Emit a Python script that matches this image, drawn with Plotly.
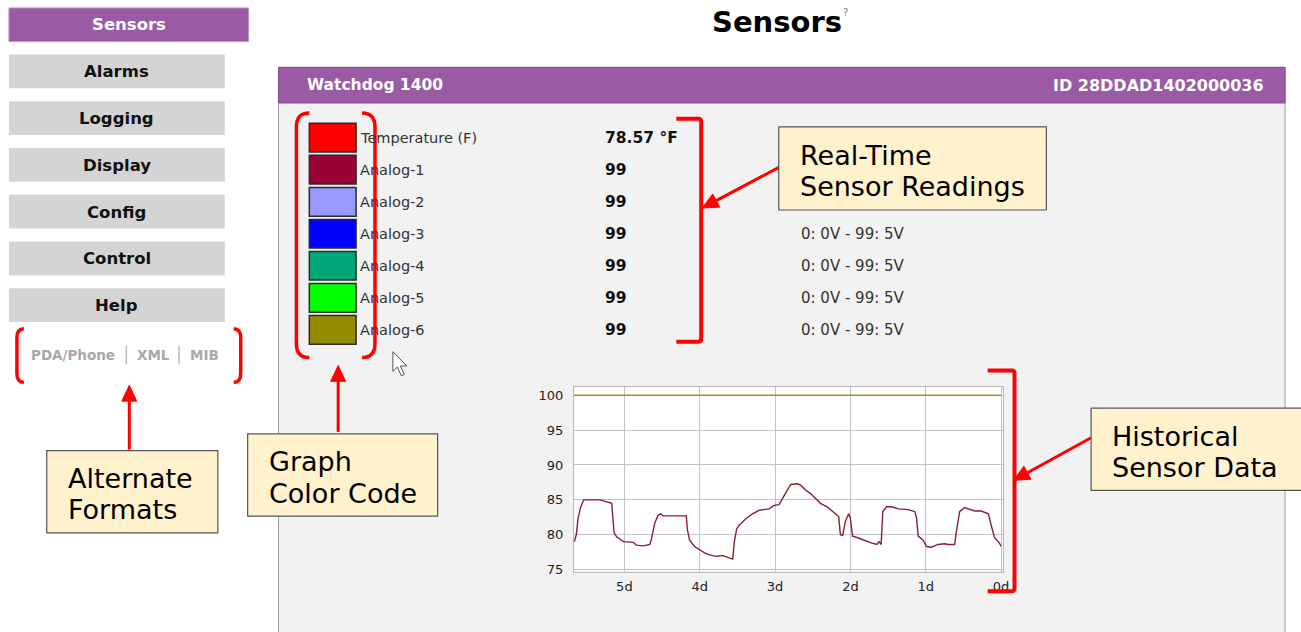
import plotly.graph_objects as go

W, H = 1301, 632
FONT = "DejaVu Sans"

# ---------------- data ----------------
nav_active = "Sensors"
nav_items = ["Alarms", "Logging", "Display", "Config", "Control", "Help"]
alt_formats = ["PDA/Phone", "XML", "MIB"]

device_name = "Watchdog 1400"
device_id = "ID 28DDAD1402000036"

sensor_names = ["Temperature (F)", "Analog-1", "Analog-2", "Analog-3",
                "Analog-4", "Analog-5", "Analog-6"]
sensor_values = ["78.57 °F", "99", "99", "99", "99", "99", "99"]
sensor_ranges = ["", "", "", "0: 0V - 99: 5V", "0: 0V - 99: 5V",
                 "0: 0V - 99: 5V", "0: 0V - 99: 5V"]
sensor_colors = ["#ff0000", "#990033", "#9999ff", "#0000ff",
                 "#00a878", "#00ff00", "#938c00"]

# historical temperature (days ago, °F)
temp_days = [5.664, 5.638, 5.616, 5.585, 5.541, 5.321, 5.168, 5.137, 5.102,
             5.014, 4.882, 4.838, 4.750, 4.662, 4.640, 4.596, 4.552, 4.517,
             4.486, 4.178, 4.165, 4.134, 4.068, 4.002, 3.936, 3.870, 3.782,
             3.694, 3.606, 3.562, 3.540, 3.510, 3.475, 3.387, 3.299, 3.211,
             3.079, 3.013, 2.947, 2.903, 2.837, 2.793, 2.705, 2.661, 2.595,
             2.529, 2.463, 2.397, 2.309, 2.243, 2.177, 2.155, 2.133, 2.102,
             2.067, 2.023, 2.001, 1.971, 1.913, 1.803, 1.715, 1.649, 1.619,
             1.592, 1.570, 1.518, 1.452, 1.364, 1.232, 1.144, 1.122, 1.100,
             1.034, 0.990, 0.924, 0.836, 0.748, 0.704, 0.616, 0.594, 0.550,
             0.484, 0.418, 0.352, 0.264, 0.168, 0.132, 0.088, 0.022, 0.0]
temp_vals = [79.0, 80.0, 82.2, 83.8, 85.0, 85.0, 84.5, 80.3, 79.7,
             79.0, 78.9, 78.5, 78.4, 78.6, 79.4, 81.7, 82.8, 83.0,
             82.7, 82.7, 80.8, 79.2, 78.3, 77.8, 77.4, 77.1, 76.9,
             77.0, 76.7, 76.5, 79.0, 80.8, 81.4, 82.3, 83.0, 83.5,
             83.7, 84.2, 84.3, 85.2, 86.4, 87.2, 87.3, 87.1, 86.4,
             85.9, 85.2, 84.5, 84.0, 83.4, 82.8, 82.6, 80.0, 79.9,
             81.9, 83.0, 82.4, 79.8, 79.6, 79.1, 78.8, 78.6, 79.0,
             78.6, 83.3, 84.0, 84.0, 83.7, 83.6, 83.3, 82.4, 79.8,
             79.2, 78.3, 78.2, 78.6, 78.7, 78.6, 78.6, 80.4, 83.3,
             83.9, 83.6, 83.4, 83.4, 83.0, 81.4, 79.6, 78.8, 78.3]
analog6_days = [5.67, 0.0]
analog6_vals = [100, 100]

x_tick_vals = [5, 4, 3, 2, 1, 0]
x_tick_text = ["5d", "4d", "3d", "2d", "1d", "0d"]
y_tick_vals = [75, 80, 85, 90, 95, 100]

callouts = [
    (["Alternate", "Formats"], (47, 455, 219, 538)),
    (["Graph", "Color Code"], (249, 438, 440, 521)),
    (["Real-Time", "Sensor Readings"], (783, 128, 1052, 212)),
    (["Historical", "Sensor Data"], (1097, 412, 1310, 495)),
]

# ---------------- helpers ----------------
PURPLE = "#9a5aa4"
RED = "#ff0000"
shapes = []
annotations = []


def X(px):
    return px / W


def Y(py):
    return 1 - py / H


def P(px, py):
    return f"{X(px):.5f},{Y(py):.5f}"


def rect(x0, y0, x1, y1, fill, line=None, lw=0, layer="below"):
    shapes.append(dict(type="rect", xref="paper", yref="paper",
                       x0=X(x0), x1=X(x1), y0=Y(y1), y1=Y(y0),
                       fillcolor=fill, layer=layer,
                       line=dict(color=line or fill, width=lw)))


def path(d, color=RED, width=3.5, fill=None, layer="above"):
    s = dict(type="path", xref="paper", yref="paper", path=d, layer=layer,
             line=dict(color=color, width=width))
    if fill:
        s["fillcolor"] = fill
    shapes.append(s)


def text(px, py, t, size=14, color="#000", bold=False, anchor="left", family=FONT):
    if bold:
        t = f"<b>{t}</b>"
    annotations.append(dict(xref="paper", yref="paper", x=X(px), y=Y(py),
                            text=t, showarrow=False, xanchor=anchor,
                            yanchor="middle", borderpad=0,
                            font=dict(family=family, size=size, color=color)))


def arrow(x0, y0, x1, y1, head=16, half=7.5):
    dx, dy = x1 - x0, y1 - y0
    L = (dx * dx + dy * dy) ** 0.5
    ux, uy = dx / L, dy / L
    bx, by = x1 - ux * head, y1 - uy * head
    path(f"M{P(x0, y0)} L{P(bx, by)}", width=3)
    px_, py_ = -uy * half, ux * half
    path(f"M{P(x1, y1)} L{P(bx + px_, by + py_)} L{P(bx - px_, by - py_)} Z",
         width=1, fill=RED)


def paren_pair(xl, xr, y0, y1, depth, r=9):
    path(f"M{P(xl + depth, y0)} Q{P(xl, y0)} {P(xl, y0 + r)} "
         f"L{P(xl, y1 - r)} Q{P(xl, y1)} {P(xl + depth, y1)}")
    path(f"M{P(xr - depth, y0)} Q{P(xr, y0)} {P(xr, y0 + r)} "
         f"L{P(xr, y1 - r)} Q{P(xr, y1)} {P(xr - depth, y1)}")


def square_bracket(x0, x1, y0, y1):
    path(f"M{P(x0, y0)} L{P(x1 - 3, y0)} Q{P(x1, y0)} {P(x1, y0 + 3)} "
         f"L{P(x1, y1 - 3)} Q{P(x1, y1)} {P(x1 - 3, y1)} L{P(x0, y1)}", width=4)


# ---------------- page structure ----------------
rect(280, 68, 1292, 650, "#f2f2f2", line="#9a9a9a", lw=1)
rect(280, 68, 1292, 104, PURPLE, line="#8a4a94", lw=1)
rect(577, 391, 1008, 577, "#ffffff")

# sidebar
rect(9, 8, 250, 42, PURPLE, line="#b79bbd", lw=1)
text(130, 25, nav_active, size=16.5, color="#ffffff", bold=True, anchor="center")
for i, item in enumerate(nav_items):
    top = 55 + i * 47.2
    rect(9, top, 226, top + 34, "#d4d4d4")
    text(117.5, top + 17.5, item, size=16.5, color="#111111", bold=True, anchor="center")

alt_x = [73.5, 154, 206]
for t, xx in zip(alt_formats, alt_x):
    text(xx, 358, t, size=13.5, color="#a8a8a8", bold=True, anchor="center")
for xx in [127, 180]:
    shapes.append(dict(type="line", xref="paper", yref="paper",
                       x0=X(xx), x1=X(xx), y0=Y(349), y1=Y(368),
                       line=dict(color="#bdbdbd", width=1.5)))

# title
text(781, 22, "Sensors", size=29, color="#000000", bold=True, anchor="center")
text(850, 13, "?", size=10, color="#8a7aa0", anchor="center")

# header texts
text(308, 86, device_name, size=15.5, color="#ffffff", bold=True, anchor="left")
text(1272, 86, device_id, size=16, color="#ffffff", bold=True, anchor="right")

# sensor rows
row_y = [139, 171.3, 203.7, 236, 268.3, 300.7, 333]
for name, val, rng, col, yy in zip(sensor_names, sensor_values, sensor_ranges,
                                    sensor_colors, row_y):
    rect(311, yy - 14.5, 358, yy + 14.5, col, line="#2a2a2a", lw=1.5, layer="above")
    text(361, yy, name, size=14.5, color="#333333")
    text(607, yy, val, size=15.5, color="#111111", bold=True)
    if rng:
        text(804, yy, rng, size=15, color="#333333")

# mouse cursor
path(f"M{P(395, 355)} L{P(395, 375)} L{P(399.5, 370.5)} L{P(403.5, 379.5)} "
     f"L{P(406.5, 378)} L{P(402.5, 369.5)} L{P(409, 369.5)} Z",
     color="#555555", width=1, fill="#ffffff")

# brackets
paren_pair(17, 242, 332, 386, 7)
paren_pair(298, 377, 114, 361, 13, r=14)
square_bracket(680, 705, 120, 345)
square_bracket(993, 1020, 374, 597)

# arrows
arrow(130, 454, 130, 389)
arrow(340, 436, 340, 369)
arrow(785, 168, 706, 210)
arrow(1097, 442, 1019, 485)

# callout boxes
for lines, (x0, y0, x1, y1) in callouts:
    rect(x0, y0, x1, y1, "#fff2cc", line="#555555", lw=1.2, layer="above")
    h = y1 - y0
    text(x0 + 20, y0 + h * 0.34, lines[0], size=27, color="#000000")
    text(x0 + 20, y0 + h * 0.72, lines[1], size=27, color="#000000")

# ---------------- chart ----------------
fig = go.Figure()
fig.add_trace(go.Scatter(x=analog6_days, y=analog6_vals, mode="lines",
                         line=dict(color="#9a9420", width=1.5),
                         name=sensor_names[6], hoverinfo="skip"))
fig.add_trace(go.Scatter(x=temp_days, y=temp_vals, mode="lines",
                         line=dict(color="#86202f", width=1.4),
                         name=sensor_names[0]))

fig.update_layout(
    width=W, height=H, autosize=False,
    margin=dict(l=0, r=0, t=0, b=0),
    paper_bgcolor="#ffffff", plot_bgcolor="#ffffff",
    showlegend=False,
    shapes=shapes, annotations=annotations,
    xaxis=dict(domain=[X(577), X(1008)], range=[5.67, -0.02],
               tickvals=x_tick_vals, ticktext=x_tick_text,
               showgrid=True, gridcolor="#c4c4c4", gridwidth=1,
               zeroline=False, showline=True, mirror=True,
               linecolor="#b8b8b8", linewidth=1, ticks="",
               ticklabelstandoff=3,
               tickfont=dict(family=FONT, size=13, color="#222222")),
    yaxis=dict(domain=[Y(577), Y(391)], range=[74.72, 101.14],
               tickvals=y_tick_vals,
               showgrid=True, gridcolor="#c4c4c4", gridwidth=1,
               zeroline=False, showline=True, mirror=True,
               linecolor="#b8b8b8", linewidth=1, ticks="",
               ticklabelstandoff=7,
               tickfont=dict(family=FONT, size=13, color="#222222")),
)

fig.write_html("out.html", config={"displayModeBar": False},
               post_script="document.body.style.margin='0';"
                           "document.body.style.overflow='hidden';")
